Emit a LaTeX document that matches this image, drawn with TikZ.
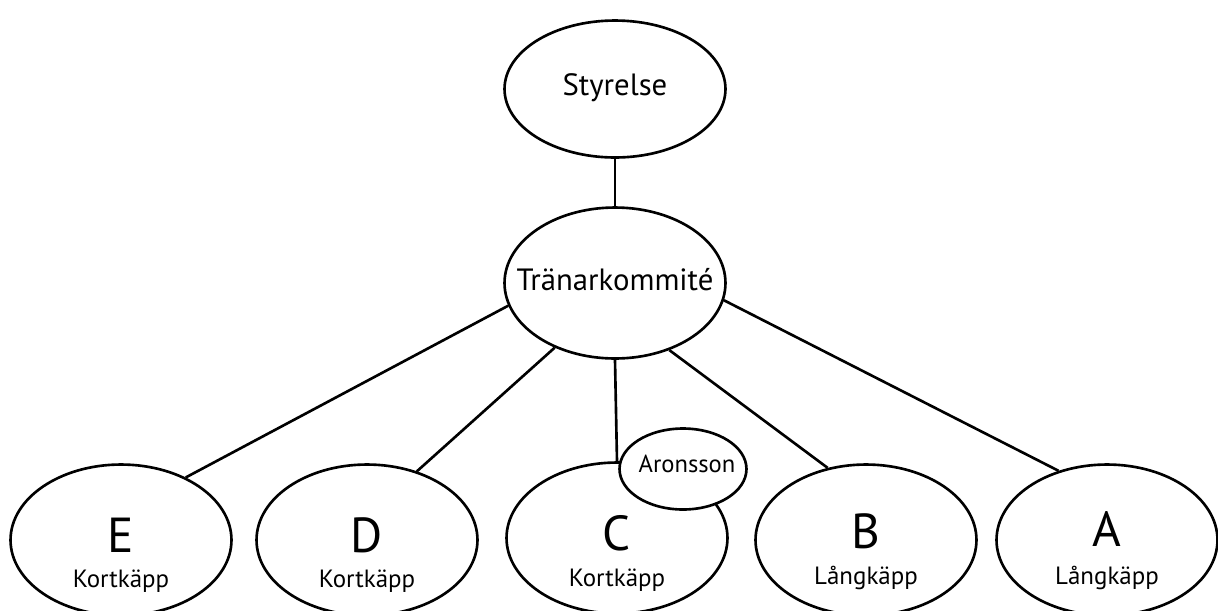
\documentclass[tikz,border=0pt]{standalone}
\usepackage{fontspec}
\setmainfont{PT Sans}
\usetikzlibrary{shapes.geometric}

\begin{document}
\begin{tikzpicture}[x=0.02cm, y=-0.02cm,
  ell/.style={ellipse, draw, line width=1.5pt, inner sep=0pt},
  big/.style={ellipse, draw, line width=1.5pt, inner sep=0pt, minimum width=4.42cm, minimum height=3.02cm},
  txt/.style={anchor=base, inner sep=0pt, font=\fontsize{17.5}{19}\selectfont},
  letter/.style={anchor=base, inner sep=0pt, font=\fontsize{28}{30}\selectfont},
  sub/.style={anchor=base, inner sep=0pt, font=\fontsize{14.2}{16}\selectfont},
  lnk/.style={line width=1.5pt}]
\useasboundingbox (0,0) rectangle (1218,610);

\node[ell, minimum width=4.42cm, minimum height=2.74cm] (S) at (615,89) {};
\node[txt] (S1) at (615,95) {Styrelse};
\node[big] (T) at (615,283) {};
\node[txt] (T1) at (615,290) {Tränarkommité};

\node[big] (E) at (121,540) {};
\node[big] (D) at (367,540) {};
\node[big] (C) at (617,538) {};
\node[big] (B) at (866,540) {};
\node[big] (A) at (1107,540) {};
\node[ell, fill=white, minimum width=2.54cm, minimum height=1.62cm] (R) at (683,469) {};
\node[txt, font=\fontsize{14}{16}\selectfont] (R1) at (687,472) {Aronsson};

\node[letter] (E1) at (121,552) {E};
\node[sub] (E2) at (121,587) {Kortkäpp};
\node[letter] (D1) at (367,552) {D};
\node[sub] (D2) at (367,587) {Kortkäpp};
\node[letter] (C1) at (617,550) {C};
\node[sub] (C2) at (617,586) {Kortkäpp};
\node[letter] (B1) at (866,548) {B};
\node[sub] (B2) at (866,584) {Långkäpp};
\node[letter] (A1) at (1107,546) {A};
\node[sub] (A2) at (1107,584) {Långkäpp};

\draw[lnk] (S)--(T);
\draw[lnk] (T.192) -- (E.44);
\draw[lnk] (T.227) -- (D.54);
\draw[lnk] (T.270) -- (C.90);
\draw[lnk] (T.309) -- (B.118);
\draw[lnk] (T.351) -- (A.125);
\end{tikzpicture}
\end{document}
